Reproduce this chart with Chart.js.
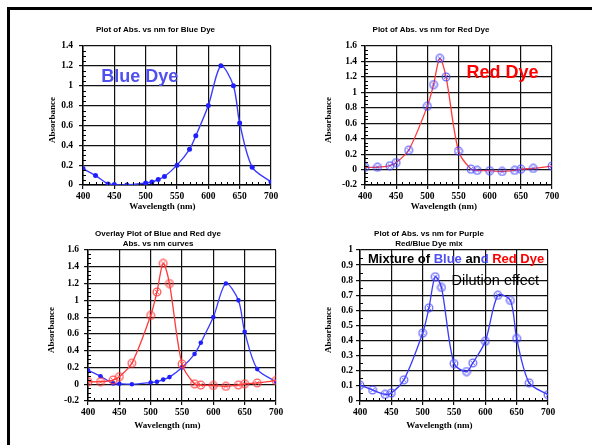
<!DOCTYPE html>
<html><head><meta charset="utf-8">
<script src="https://cdn.jsdelivr.net/npm/chart.js@4.4.1/dist/chart.umd.min.js"></script>
<style>
html,body{margin:0;padding:0;background:#fff;width:592px;height:445px;overflow:hidden;position:relative}
#frame{position:absolute;left:7px;top:7px;width:700px;height:600px;border:3px solid #000;box-sizing:border-box}
canvas{position:absolute}
</style></head><body>
<div id="frame"></div>
<canvas id="c1" width="261" height="195" style="left:40px;top:20px"></canvas>
<canvas id="c2" width="302" height="195" style="left:310px;top:20px"></canvas>
<canvas id="c3" width="266" height="206" style="left:40px;top:225px"></canvas>
<canvas id="c4" width="294" height="206" style="left:310px;top:225px"></canvas>
<script>
// ---- data ----
const wavelengths = [400,420,440,450,470,500,510,520,530,550,570,580,600,620,640,650,670,700];
const blueAbs   = [0.165,0.095,0.01,0.005,0,0.02,0.03,0.055,0.085,0.2,0.36,0.495,0.8,1.2,1.0,0.625,0.18,0.03];
const redAbs    = [0.03,0.03,0.05,0.09,0.25,0.82,1.10,1.44,1.20,0.24,0.005,-0.01,-0.015,-0.025,-0.01,0.005,0.015,0.045];
const purpleAbs = [0.105,0.073,0.044,0.053,0.14,0.45,0.617,0.823,0.752,0.248,0.195,0.252,0.396,0.70,0.666,0.414,0.12,0.042];
const titles = {
  blue: 'Plot of Abs. vs nm for Blue Dye',
  red: 'Plot of Abs. vs nm for Red Dye',
  overlay: ['Overlay Plot of Blue and Red dye','Abs. vs nm curves'],
  purple: ['Plot of Abs. vs nm for Purple','Red/Blue Dye mix']
};
const xLabel = 'Wavelength (nm)';
const yLabel = 'Absorbance';

// ---- helpers ----
const SERIF = "'Liberation Serif','Times New Roman',serif";
const SANS = "'Liberation Sans',Arial,sans-serif";
const NB = '\u00a0';
const BLUE = '#3a3aff', RED = '#ff3a3a';
const isMult = (v, m) => Math.abs(v / m - Math.round(v / m)) < 1e-6;
const fmt = v => String(Math.round(v * 100) / 100);
const pts = ys => wavelengths.map((x, i) => ({x, y: ys[i]}));

function ringCross(color) {
  const c = document.createElement('canvas');
  c.width = 10; c.height = 10;
  const g = c.getContext('2d');
  g.strokeStyle = color; g.lineWidth = 1.3;
  g.beginPath(); g.arc(5, 5, 3.8, 0, Math.PI * 2); g.stroke();
  g.lineWidth = 1;
  g.beginPath(); g.moveTo(3, 3); g.lineTo(7, 7); g.moveTo(7, 3); g.lineTo(3, 7); g.stroke();
  return c;
}

function makeMinor(xMajor, yMajor) {
  return {
    id: 'minorTicks',
    afterDraw(chart) {
      const {ctx, chartArea: a} = chart;
      const xs = chart.scales.x, ys = chart.scales.y;
      ctx.save();
      ctx.strokeStyle = '#000'; ctx.lineWidth = 1;
      ctx.beginPath();
      xs.ticks.forEach(t => {
        if (!isMult(t.value, xMajor)) {
          const p = Math.round(xs.getPixelForValue(t.value)) + 0.5;
          ctx.moveTo(p, a.bottom); ctx.lineTo(p, a.bottom - 3);
        }
      });
      ys.ticks.forEach(t => {
        if (!isMult(t.value, yMajor)) {
          const p = Math.round(ys.getPixelForValue(t.value)) + 0.5;
          ctx.moveTo(a.left, p); ctx.lineTo(a.left + 3, p);
        }
      });
      ctx.stroke();
      ctx.restore();
    }
  };
}

function makeNotes(items) {
  return {
    id: 'textNotes',
    afterDatasetsDraw(chart) {
      const {ctx} = chart;
      const xs = chart.scales.x, ys = chart.scales.y;
      ctx.save();
      ctx.textBaseline = 'middle'; ctx.textAlign = 'left';
      items.forEach(it => {
        let px = xs.getPixelForValue(it.x);
        const py = ys.getPixelForValue(it.y);
        ctx.font = it.font;
        it.parts.forEach(p => {
          ctx.fillStyle = p.color;
          ctx.fillText(p.text, px, py);
          px += ctx.measureText(p.text).width;
        });
      });
      ctx.restore();
    }
  };
}

function buildChart(id, c) {
  const major = (m) => (ctx) => isMult(ctx.tick.value, m) ? '#111' : 'rgba(0,0,0,0)';
  return new Chart(document.getElementById(id), {
    type: 'line',
    data: {datasets: c.datasets},
    options: {
      responsive: false, animation: false, devicePixelRatio: 1,
      layout: {padding: {left: 0, right: c.padRight, top: 0, bottom: 0}},
      plugins: {
        legend: {display: false}, tooltip: {enabled: false},
        title: {display: true, text: c.title, color: '#000',
          font: {family: SANS, size: 8, weight: 'bold', lineHeight: 1.25}, padding: c.titlePad}
      },
      scales: {
        x: {
          type: 'linear', min: 400, max: 700,
          ticks: {stepSize: 10, autoSkip: false, maxRotation: 0, padding: 2, color: '#000',
            font: {family: SERIF, size: 9.5, weight: 'bold'},
            callback: v => isMult(v, 50) ? String(v) : ''},
          grid: {color: major(50), lineWidth: 1.2, tickLength: 4, tickColor: major(50)},
          border: {color: '#000', width: 1.5},
          title: {display: true, text: xLabel + NB.repeat(13), color: '#000',
            font: {family: SERIF, size: 9, weight: 'bold', lineHeight: 1.2},
            padding: {top: 0, bottom: c.xTitlePad}},
          afterFit: s => { s.height = 30; }
        },
        y: {
          min: c.yMin, max: c.yMax,
          ticks: {stepSize: c.yMinor, autoSkip: false, padding: c.yTickPad, color: '#000',
            font: {family: SERIF, size: 9.5, weight: 'bold'},
            callback: v => isMult(v, c.yMajor) ? fmt(v) : ''},
          grid: {color: major(c.yMajor), lineWidth: 1.2, tickLength: 4, tickColor: major(c.yMajor)},
          border: {color: '#000', width: 1.5},
          title: {display: true, text: yLabel + NB.repeat(4), color: '#000',
            font: {family: SERIF, size: 9, weight: 'bold', lineHeight: 1.2},
            padding: {top: c.yTitlePad, bottom: 0}},
          afterFit: s => { s.width = c.yWidth; }
        }
      }
    },
    plugins: [makeMinor(50, c.yMajor), makeNotes(c.notes || [])]
  });
}

const blueRing = ringCross('rgba(70,70,255,0.8)');
const redRing = ringCross('rgba(255,60,60,0.85)');

buildChart('c1', {
  title: titles.blue, titlePad: {top: 5, bottom: 11}, padRight: 30, xTitlePad: 3,
  yMin: 0, yMax: 1.4, yMajor: 0.2, yMinor: 0.05, yWidth: 43, yTickPad: 6, yTitlePad: 7,
  datasets: [{data: pts(blueAbs), borderColor: BLUE, borderWidth: 1.4, tension: 0.3,
    pointRadius: 2.5, pointBackgroundColor: '#2020ff', pointBorderWidth: 0}],
  notes: [{x: 429, y: 1.09, font: "bold 18px " + SANS, parts: [{text: 'Blue Dye', color: '#5050f0'}]}]
});

buildChart('c2', {
  title: titles.red, titlePad: {top: 5, bottom: 11}, padRight: 60, xTitlePad: 3,
  yMin: -0.2, yMax: 1.6, yMajor: 0.2, yMinor: 0.05, yWidth: 55, yTickPad: 4, yTitlePad: 13.5,
  datasets: [{data: pts(redAbs), borderColor: RED, borderWidth: 1.3, tension: 0.3,
    pointStyle: blueRing}],
  notes: [{x: 563, y: 1.253, font: "bold 18px " + SANS, parts: [{text: 'Red Dye', color: '#ff0000'}]}]
});

buildChart('c3', {
  title: titles.overlay, titlePad: {top: 4, bottom: 1}, padRight: 30, xTitlePad: 0,
  yMin: -0.2, yMax: 1.6, yMajor: 0.2, yMinor: 0.05, yWidth: 48, yTickPad: 5, yTitlePad: 6.6,
  datasets: [
    {data: pts(redAbs), borderColor: RED, borderWidth: 1.3, tension: 0.3, pointStyle: redRing},
    {data: pts(blueAbs), borderColor: BLUE, borderWidth: 1.3, tension: 0.3,
      pointRadius: 2.3, pointBackgroundColor: '#2020ff', pointBorderWidth: 0}
  ]
});

buildChart('c4', {
  title: titles.purple, titlePad: {top: 4, bottom: 1}, padRight: 56, xTitlePad: 0,
  yMin: 0, yMax: 1, yMajor: 0.1, yMinor: 0.05, yWidth: 50, yTickPad: 3, yTitlePad: 13.5,
  datasets: [{data: pts(purpleAbs), borderColor: BLUE, borderWidth: 1.3, tension: 0.3,
    pointStyle: blueRing}],
  notes: [
    {x: 412.7, y: 0.937, font: "bold 13px " + SANS, parts: [
      {text: 'Mixture of ', color: '#000'}, {text: 'Blue', color: '#5050f0'},
      {text: ' an', color: '#000'}, {text: 'd', color: '#5050f0'}, {text: ' ', color: '#000'},
      {text: 'Red Dye', color: '#ff0000'}]},
    {x: 546, y: 0.794, font: "14.5px " + SANS, parts: [{text: 'Dilution effect', color: '#000'}]}
  ]
});
</script>
</body></html>
